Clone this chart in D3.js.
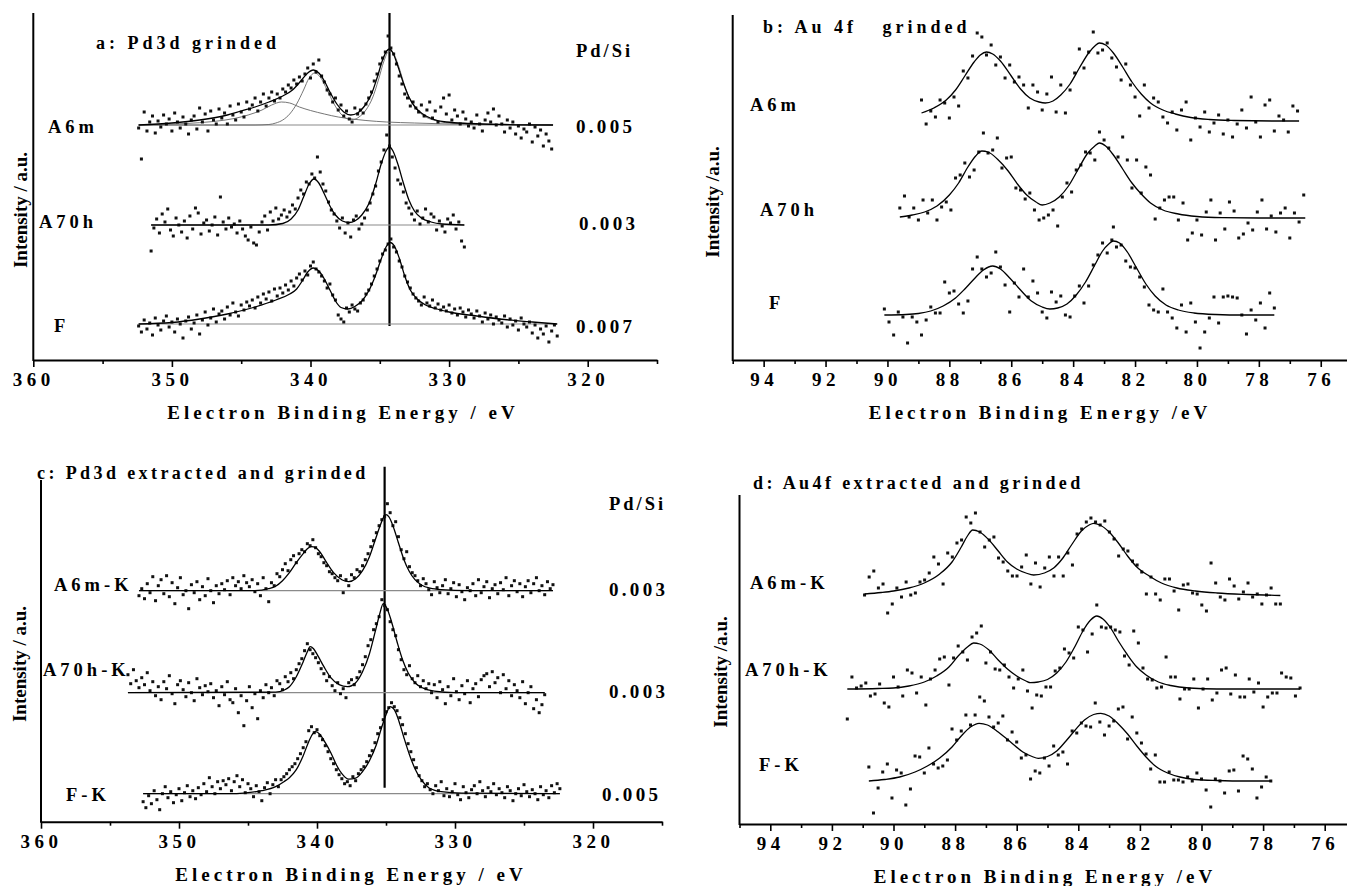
<!DOCTYPE html>
<html>
<head>
<meta charset="utf-8">
<script src="https://cdn.jsdelivr.net/npm/d3@7"></script>
<style>
body { margin: 0; background: #fff; }
svg text { font-family: "Liberation Serif", "Times New Roman", serif; font-weight: bold; fill: #000; }
</style>
</head>
<body>
<svg id="chart" width="1347" height="886"></svg>
<script>

// intensities are in arbitrary units (offset traces)

// ---- panel a: Pd3d grinded ----
var aSamples = ["A6m", "A70h", "F"];
var aRatios = ["0.005", "0.003", "0.007"];
var aStarts = [352.4, 351.5, 352.4];
var aBaselines = [235, 135, 36];
var aCountsA6m = [232, 201, 248, 229, 238, 244, 227, 239, 233, 245,
  236, 241, 229, 247, 238, 232, 243, 236, 226, 240,
  244, 231, 252, 238, 246, 229, 249, 240, 236, 251,
  242, 247, 236, 254, 245, 240, 256, 248, 243, 258,
  251, 255, 262, 249, 258, 266, 254, 262, 268, 259,
  266, 262, 271, 268, 275, 272, 280, 276, 283, 279,
  286, 292, 282, 296, 288, 300, 284, 278, 270, 266,
  258, 262, 250, 255, 244, 249, 241, 238, 252, 246,
  250, 247, 256, 262, 268, 279, 286, 296, 302, 308,
  324, 312, 306, 296, 284, 276, 266, 262, 254, 258,
  252, 248, 255, 244, 250, 258, 242, 249, 238, 253,
  262, 246, 265, 240, 250, 244, 236, 248, 241, 234,
  238, 232, 245, 236, 229, 240, 247, 238, 251, 235,
  244, 236, 228, 240, 232, 238, 226, 234, 222, 231,
  228, 236, 218, 233, 224, 230, 214, 226, 219, 211];
var aCountsA70h = [109, 132, 141, 127, 146, 138, 151, 130, 124, 142,
  135, 128, 139, 122, 144, 131, 152, 147, 126, 137,
  140, 129, 135, 143, 125, 163, 138, 131, 142, 133,
  136, 127, 139, 131, 124, 120, 133, 117, 115, 128,
  138, 144, 130, 148, 139, 152, 141, 145, 150, 143,
  148, 155, 151, 162, 170, 166, 178, 176, 186, 182,
  203, 188, 176, 169, 158, 150, 146, 139, 132, 142,
  127, 137, 123, 140, 144, 131, 136, 142, 150, 157,
  166, 174, 189, 198, 210, 225, 214, 203, 192, 180,
  176, 168, 157, 152, 146, 140, 149, 136, 142, 151,
  138, 146, 143, 130, 139, 134, 128, 141, 137, 145,
  131, 138, 119, 113];
var aCountsF = [34, 28, 40, 31, 37, 25, 42, 35, 30, 39,
  44, 33, 38, 28, 41, 36, 22, 39, 43, 31,
  37, 45, 26, 40, 48, 35, 42, 51, 38, 46,
  49, 41, 53, 45, 57, 48, 44, 55, 50, 58,
  54, 60, 52, 63, 57, 66, 61, 68, 59, 71,
  64, 72, 67, 75, 70, 79, 74, 82, 86, 80,
  89, 85, 94, 98, 91, 88, 84, 79, 72, 76,
  65, 60, 45, 41, 38, 52, 48, 55, 51, 49,
  57, 60, 66, 70, 76, 84, 91, 99, 106, 110,
  116, 121, 113, 108, 99, 93, 84, 78, 72, 66,
  62, 59, 55, 63, 57, 54, 60, 52, 56, 50,
  53, 49, 55, 47, 51, 45, 52, 48, 43, 50,
  46, 42, 49, 44, 38, 47, 41, 45, 36, 43,
  40, 37, 44, 33, 41, 35, 39, 30, 42, 36,
  33, 38, 27, 35, 22, 31, 26, 34, 18, 29,
  35, 24];
var aFitA6m = [[352.4,235],[350,237],[348,240],[346,245],[345,249],[344,253],[343,258],[342,264],[341.3,270],[340.7,279],[340.2,287],[339.8,290],[339.4,287],[339,279],[338.6,268],[338.1,256],[337.6,248],[337.1,245],[336.6,247],[336.1,254],[335.6,266],[335.2,282],[334.8,300],[334.5,309],[334.3,311],[334.05,307],[333.7,294],[333.3,277],[332.9,263],[332.4,252],[331.9,246],[331.2,241],[330.2,238],[328.5,236.5],[326,235.5],[322.5,235]];
var aNarrowA6m = [[352.4,235],[344,235],[343,235.5],[342.5,237],[342,240],[341.5,246],[341,256],[340.5,270],[340.1,282],[339.7,287],[339.3,283],[338.8,270],[338.3,256],[337.8,246],[337.3,241],[336.9,240.5],[336.5,243],[336,250],[335.5,263],[335.1,280],[334.7,299],[334.4,308],[334.2,309],[333.95,305],[333.6,292],[333.2,274],[332.8,260],[332.3,250],[331.8,244],[331,239.5],[330,237],[327,235.5],[322.5,235]];
var aBroadA6m = [[352.4,235],[349,236.5],[347,238.5],[345.5,241.5],[344.5,245],[343.5,250],[342.8,255],[342.1,258],[341.5,257],[340.8,253],[340,249.5],[339,246],[338,243],[337,241],[336,239.5],[334.5,238],[332.5,237],[330,236],[326,235.3],[322.5,235]];
var aFitA70h = [[351.5,135],[343,135],[342,136.5],[341.4,141],[340.9,150],[340.5,163],[340.1,176],[339.75,181],[339.4,177],[339,166],[338.6,154],[338.2,145],[337.7,139],[337.2,137.5],[336.8,139],[336.3,145],[335.8,156],[335.3,176],[334.9,196],[334.55,209],[334.3,213],[334.05,209],[333.7,196],[333.3,177],[332.9,160],[332.5,149],[332,142],[331.3,138],[330.5,136],[328.9,135]];
var aFitF = [[352.4,36],[350,37.5],[348,41],[346,46],[344,53],[342.5,60],[341.5,66],[341,71],[340.6,79],[340.2,88],[339.8,92],[339.4,89],[339,81],[338.6,70],[338.2,59],[337.8,52.5],[337.3,51],[336.8,53.5],[336.3,59],[335.8,69],[335.3,85],[334.9,101],[334.55,113],[334.25,117.5],[333.95,114],[333.6,102],[333.2,84],[332.8,70],[332.3,61],[331.7,55],[331,51.5],[330,48],[328,44],[326,40.5],[324,38],[322.2,36]];
var aRefLine = [334.3, 347, 34];   // energy, top, bottom

// ---- panel b: Au 4f grinded ----
var bSamples = ["A6m", "A70h", "F"];
var bStarts = [88.9, 89.6, 90.1];
var bCountsA6m = [260, 236, 249, 243, 260, 257, 242, 263, 254,
  289, 282, 304, 327, 323, 305, 315, 295, 303,
  282, 295, 278, 283, 275, 252, 275, 268, 250,
  266, 283, 248, 275, 247, 270, 287, 311, 292,
  308, 328, 307, 310, 317, 302, 293, 280, 296,
  275, 263, 244, 275, 252, 262, 258, 243, 237,
  248, 230, 250, 258, 220, 242, 233, 248, 228,
  237, 245, 226, 240, 223, 236, 250, 232, 263,
  238, 223, 255, 260, 229, 244, 240, 228, 254,
  249];
var bCountsA70h = [152, 164, 143, 152, 140, 160, 147, 160, 140,
  153, 158, 150, 182, 185, 197, 183, 190, 208,
  227, 207, 210, 222, 192, 202, 203, 172, 170,
  161, 167, 150, 140, 142, 145, 150, 134, 163,
  177, 168, 190, 195, 208, 207, 200, 228, 220,
  212, 133, 203, 223, 200, 172, 200, 167, 193,
  185, 141, 152, 160, 163, 163, 140, 157, 120,
  127, 140, 125, 148, 160, 120, 147, 131, 158,
  149, 122, 126, 137, 130, 148, 160, 131, 144,
  128, 147, 152, 122, 147, 138, 165];
var bCountsF = [51, 38, 25, 48, 43, 17, 43, 38, 25,
  40, 53, 47, 47, 78, 67, 69, 56, 47,
  59, 91, 103, 91, 83, 87, 108, 93, 75,
  48, 77, 63, 91, 63, 79, 67, 48, 42,
  68, 58, 64, 45, 43, 64, 74, 57, 74,
  95, 105, 117, 107, 120, 113, 115, 99, 93,
  92, 83, 73, 55, 50, 48, 71, 48, 42,
  32, 55, 28, 57, 38, 12, 28, 42, 63,
  37, 63, 64, 63, 62, 45, 26, 50, 40,
  57, 32, 67, 52];
var bFitA6m = [[88.9,247],[88.5,252],[88.1,260],[87.8,270],[87.5,284],[87.2,298],[87.0,305],[86.8,308],[86.6,306],[86.35,299],[86.0,284],[85.7,271],[85.4,262],[85.1,258],[84.9,257],[84.65,259],[84.4,265],[84.1,276],[83.8,292],[83.5,307],[83.3,314],[83.15,317],[82.95,315],[82.7,307],[82.4,293],[82.1,278],[81.8,266],[81.5,257],[81.1,250],[80.7,246],[80.2,242.5],[79.6,240.5],[78.8,239.5],[77.5,239],[76.7,239]];
var bFitA70h = [[89.6,143],[89.2,145],[88.8,148],[88.4,154],[88.0,165],[87.7,177],[87.4,193],[87.15,204],[86.95,209],[86.75,208],[86.45,201],[86.1,189],[85.8,176],[85.5,165],[85.2,158],[85.0,155],[84.75,157],[84.45,163],[84.15,174],[83.85,190],[83.55,206],[83.3,214],[83.15,217],[82.95,214],[82.7,205],[82.4,191],[82.1,177],[81.8,166],[81.5,157],[81.1,150],[80.6,146],[80.0,143.5],[79.2,142.3],[78,142],[76.5,142]];
var bFitF = [[90.1,45],[89.4,45.5],[89,46.5],[88.6,49],[88.2,54],[87.8,62],[87.5,71],[87.2,81],[86.9,90],[86.6,94],[86.35,91],[86.05,82],[85.7,70],[85.35,59],[85.0,53],[84.75,51],[84.5,52],[84.2,56],[83.9,65],[83.6,78],[83.3,95],[83.05,109],[82.85,116],[82.7,119],[82.5,117],[82.25,108],[81.95,92],[81.65,76],[81.35,64],[81.0,55],[80.6,50],[80.1,47],[79.4,45.5],[78.5,45],[77.5,45]];

// ---- panel c: Pd3d extracted and grinded ----
var cSamples = ["A6m-K", "A70h-K", "F-K"];
var cRatios = ["0.003", "0.003", "0.005"];
var cStarts = [352.9, 353.7, 352.6];
var cBaselines = [231, 129, 28];
var cCountsA6m = [226, 233, 223, 238, 229, 245, 221, 236, 242, 228,
  246, 225, 239, 218, 234, 244, 227, 231, 213, 237,
  229, 240, 222, 235, 226, 243, 231, 219, 236, 228,
  238, 232, 241, 227, 244, 236, 240, 233, 246, 239,
  235, 242, 230, 238, 226, 244, 233, 220, 239, 236,
  248, 245, 252, 258, 251, 262, 266, 259, 268, 272,
  270, 278, 276, 282, 274, 268, 265, 259, 256, 250,
  248, 244, 241, 246, 229, 242, 236, 247, 244, 252,
  250, 256, 262, 268, 275, 281, 289, 296, 302, 305,
  318, 309, 296, 300, 285, 272, 263, 270, 255, 249,
  246, 241, 236, 243, 238, 232, 227, 240, 234, 229,
  236, 242, 228, 233, 239, 225, 237, 230, 222, 234,
  231, 238, 226, 242, 229, 235, 240, 224, 233, 237,
  228, 239, 232, 244, 226, 236, 241, 230, 238, 225,
  235, 241, 229, 238, 244, 231, 236, 227, 240, 233,
  237];
var cCountsA70h = [147, 138, 152, 141, 134, 144, 137, 149, 131, 140,
  126, 135, 122, 140, 133, 146, 128, 118, 137, 141,
  132, 125, 139, 129, 121, 143, 134, 127, 136, 130,
  138, 124, 131, 116, 135, 127, 140, 122, 119, 133,
  109, 126, 96, 121, 135, 114, 128, 103, 131, 124,
  137, 129, 134, 126, 141, 138, 132, 145, 140, 149,
  143, 152, 158, 163, 171, 178, 172, 168, 164, 159,
  153, 148, 141, 145, 136, 131, 139, 128, 133, 124,
  139, 142, 137, 144, 150, 157, 165, 176, 182, 192,
  198, 205, 222, 216, 212, 200, 192, 186, 172, 162,
  152, 147, 156, 143, 139, 146, 135, 141, 133, 138,
  129, 137, 124, 140, 132, 118, 135, 126, 143, 130,
  122, 136, 128, 141, 119, 133, 138, 125, 142, 146,
  148, 135, 150, 139, 144, 129, 147, 133, 141, 126,
  137, 131, 124, 140, 118, 129, 135, 113, 122, 109,
  117, 127];
var cCountsF = [20, 14, 26, 18, 31, 22, 12, 28, 35, 24,
  30, 19, 27, 33, 21, 29, 36, 25, 31, 23,
  34, 27, 38, 30, 44, 35, 28, 40, 33, 41,
  37, 43, 31, 40, 46, 35, 42, 29, 38, 33,
  25, 36, 30, 21, 34, 39, 28, 37, 42, 35,
  42, 45, 48, 52, 55, 58, 63, 68, 74, 80,
  91, 95, 89, 92, 86, 82, 76, 70, 63, 58,
  52, 47, 43, 38, 40, 36, 45, 41, 48, 52,
  55, 60, 66, 71, 79, 88, 94, 102, 110, 114,
  119, 115, 111, 104, 97, 88, 78, 70, 62, 54,
  46, 41, 35, 38, 32, 28, 36, 31, 40, 26,
  33, 25, 30, 38, 27, 22, 35, 29, 24, 32,
  36, 28, 40, 31, 25, 34, 30, 38, 27, 33,
  29, 24, 35, 31, 21, 28, 33, 26, 37, 30,
  25, 32, 28, 22, 35, 27, 31, 24, 36, 29,
  38, 33];
var cFitA6m = [[352.9,231],[344.5,231],[343.5,233],[343,235.5],[342.5,241],[342,249],[341.5,259],[341,268],[340.7,273],[340.4,275],[340.1,274],[339.7,268],[339.3,259],[338.8,249],[338.2,242],[337.7,240],[337.2,243],[336.7,251],[336.2,265],[335.8,281],[335.4,297],[335.15,305],[335.0,307],[334.8,305],[334.5,296],[334.1,279],[333.7,262],[333.3,250],[332.9,242],[332.4,236.5],[331.8,233.5],[331,232],[329,231],[322.9,231]];
var cFitA70h = [[353.7,129],[343,129.5],[342.4,131.5],[342,135],[341.5,145],[341,160],[340.7,170],[340.5,175],[340.25,173],[339.9,165],[339.5,155],[339,144],[338.4,137],[337.8,135],[337.2,139],[336.7,150],[336.2,168],[335.8,189],[335.45,208],[335.2,218],[334.95,214],[334.6,200],[334.2,180],[333.8,162],[333.4,149],[332.9,139],[332.3,133.5],[331.5,130.5],[330,129],[323.5,129]];
var cFitF = [[352.6,28],[346,28],[345,29],[344,31],[343,35],[342.4,40],[342,44],[341.5,52],[341,66],[340.6,80],[340.3,88],[340.1,90],[339.8,87.5],[339.4,79],[339,69],[338.6,57],[338.2,48],[337.7,42.5],[337.2,43.5],[336.7,50],[336.2,61],[335.7,77],[335.3,95],[335,107],[334.7,115],[334.4,112],[334.05,100],[333.7,84],[333.3,67],[332.9,53],[332.4,41],[331.9,34],[331,30],[329.5,28.5],[322.4,28]];
var cRefLine = [335.1, 355, 34];

// ---- panel d: Au4f extracted and grinded ----
var dSamples = ["A6m-K", "A70h-K", "F-K"];
var dStarts = [90.94, 91.5, 90.8];
var dCountsA6m = [229, 247, 253, 236, 240, 211, 220, 236, 227, 242,
  229, 231, 242, 244, 251, 267, 260, 240, 271, 267,
  281, 284, 307, 301, 311, 292, 277, 284, 287, 266,
  262, 253, 248, 248, 257, 269, 240, 261, 237, 256,
  267, 248, 267, 248, 271, 259, 290, 295, 302, 306,
  302, 299, 303, 292, 285, 268, 275, 273, 263, 259,
  252, 230, 247, 230, 224, 245, 245, 233, 214, 239,
  240, 231, 230, 219, 213, 261, 241, 227, 224, 245,
  238, 225, 232, 241, 227, 230, 220, 229, 236, 220,
  220];
var dCountsA70h = [105, 147, 136, 138, 141, 128, 130, 140, 121, 117,
  147, 137, 128, 154, 151, 131, 147, 119, 145, 154,
  165, 167, 139, 166, 178, 172, 164, 187, 191, 198,
  161, 172, 155, 154, 159, 147, 136, 145, 154, 133,
  116, 129, 128, 137, 137, 153, 156, 175, 171, 166,
  197, 194, 172, 190, 219, 197, 196, 197, 194, 192,
  168, 159, 193, 181, 156, 145, 144, 136, 137, 167,
  147, 147, 125, 135, 135, 145, 116, 135, 145, 124,
  131, 154, 156, 130, 149, 127, 127, 145, 132, 141,
  117, 127, 131, 131, 151, 147, 146, 128, 136];
var dCountsF = [57, 11, 36, 52, 60, 26, 54, 51, 19, 35,
  68, 67, 51, 76, 60, 56, 58, 64, 95, 84,
  93, 109, 99, 109, 127, 123, 107, 97, 101, 108,
  84, 92, 82, 66, 69, 45, 53, 51, 66, 58,
  78, 69, 72, 60, 93, 91, 101, 98, 97, 121,
  102, 89, 98, 103, 115, 117, 85, 107, 91, 81,
  70, 55, 69, 42, 42, 52, 44, 44, 42, 47,
  43, 51, 45, 34, 17, 45, 43, 31, 53, 54,
  33, 68, 65, 55, 26, 37, 47, 43];
var dFitA6m = [[90.94,230],[90.4,231.5],[90,233],[89.5,236],[89,241],[88.5,250],[88.1,262],[87.8,277],[87.6,288],[87.43,294],[87.2,292],[86.9,284],[86.6,273],[86.3,262],[86,255],[85.7,251],[85.45,249],[85.1,251],[84.8,256],[84.5,266],[84.2,280],[83.9,293],[83.65,299],[83.5,300.7],[83.3,299],[83.0,292],[82.7,281],[82.4,268],[82.1,257],[81.7,248],[81.3,241],[80.8,236],[80.2,233],[79.5,231],[78.5,229.5],[77.44,228.5]];
var dFitA70h = [[91.5,135],[90.5,135.5],[90,136],[89.5,138],[89,142],[88.6,148],[88.2,157],[87.9,168],[87.6,177],[87.4,181],[87.2,180],[86.9,174],[86.6,164],[86.3,155],[86,148],[85.7,143],[85.55,141.3],[85.3,142],[85,144.5],[84.7,151],[84.4,162],[84.1,178],[83.85,193],[83.6,204],[83.4,208],[83.2,205],[82.95,196],[82.7,183],[82.4,169],[82.1,157],[81.8,149],[81.4,142],[81,138.5],[80.4,136],[79.5,135],[78,135],[76.8,135]];
var dFitF = [[90.8,43],[90.3,44.5],[89.8,47],[89.3,52],[88.9,58],[88.5,66],[88.1,77],[87.8,88],[87.5,97],[87.22,100.7],[86.95,99],[86.6,92],[86.2,82],[85.8,72],[85.5,67.5],[85.3,65.7],[85,67.5],[84.7,73],[84.4,83],[84.1,94],[83.8,104],[83.5,109.5],[83.27,110.7],[83,108],[82.7,100],[82.4,90],[82.1,78],[81.8,67],[81.5,58],[81.1,51],[80.7,47],[80.2,44.5],[79.5,43.5],[78.5,43],[77.76,43]];

var pdTicks = [360, 350, 340, 330, 320];
var pdMinor = [355, 345, 335, 325, 315];
var auTicks = [94, 92, 90, 88, 86, 84, 82, 80, 78, 76];
var auMinor = [95, 93, 91, 89, 87, 85, 83, 81, 79, 77];

var pdStep = 0.2, auStep = 0.15;

// ---- drawing ----
var svg = d3.select("#chart");

function addText(g, str, x, y, size, spacing) {
    return g.append("text")
        .attr("x", x).attr("y", y)
        .style("font-size", size + "px")
        .style("letter-spacing", spacing + "px")
        .style("white-space", "pre")
        .text(str);
}

function drawPanel(p) {
    var x = d3.scaleLinear().domain(p.domain).range(p.range);
    var y = d3.scaleLinear().domain([0, 100]).range([p.axisY, p.axisY - 100]);
    var g = svg.append("g");

    // y axis: plain line, no ticks
    g.append("line")
        .attr("x1", p.range[0]).attr("x2", p.range[0])
        .attr("y1", p.yTop).attr("y2", p.axisY + 1)
        .attr("stroke", "#000").attr("stroke-width", 2);

    // minor ticks first, then labelled ticks
    var gMinor = g.append("g").attr("transform", "translate(0," + p.axisY + ")")
        .call(d3.axisBottom(x).tickValues(p.minor).tickSize(4).tickSizeOuter(0).tickFormat(""));
    gMinor.select(".domain").remove();
    gMinor.selectAll(".tick line").attr("stroke-width", 1.6);

    var gx = g.append("g").attr("transform", "translate(0," + p.axisY + ")")
        .call(d3.axisBottom(x).tickValues(p.major).tickSize(7).tickSizeOuter(0).tickFormat(d3.format("d")));
    gx.select(".domain").attr("stroke-width", 2);
    gx.selectAll(".tick line").attr("stroke-width", 1.6);
    gx.selectAll(".tick text")
        .attr("y", 13)
        .style("font-family", '"Liberation Serif", serif')
        .style("font-weight", "bold")
        .style("font-size", "19px")
        .style("letter-spacing", "4.5px");

    // axis titles
    addText(g, p.xTitle, p.xTitlePos[0], p.xTitlePos[1], 19, 4).attr("text-anchor", "middle");
    g.append("text")
        .attr("transform", "translate(" + p.yTitlePos[0] + "," + p.yTitlePos[1] + ") rotate(-90)")
        .attr("text-anchor", "middle")
        .attr("dy", "0.35em")
        .style("font-size", "19px")
        .text(p.yTitle);
    addText(g, p.title, p.titlePos[0], p.titlePos[1], 18, p.titleSpacing);

    var line = d3.line()
        .x(function(d) { return x(d[0]); })
        .y(function(d) { return y(d[1]); })
        .curve(d3.curveMonotoneX);

    // reference line through the Pd 3d5/2 peak
    if (p.refLine) {
        g.append("line")
            .attr("x1", x(p.refLine[0])).attr("x2", x(p.refLine[0]))
            .attr("y1", y(p.refLine[1])).attr("y2", y(p.refLine[2]))
            .attr("stroke", "#000").attr("stroke-width", 2.2);
    }

    p.traces.forEach(function(t, k) {
        if (t.baseline !== undefined) {
            g.append("line")
                .attr("x1", x(t.start)).attr("x2", x(t.start - (t.counts.length - 1) * p.step))
                .attr("y1", y(t.baseline)).attr("y2", y(t.baseline))
                .attr("stroke", "#8a8a8a").attr("stroke-width", 1.2);
        }
        (t.components || []).forEach(function(c) {
            g.append("path").datum(c)
                .attr("d", line)
                .attr("fill", "none")
                .attr("stroke", "#666")
                .attr("stroke-width", 0.9);
        });

        g.append("g").selectAll("rect")
            .data(t.counts)
            .join("rect")
            .attr("x", function(d, i) { return x(t.start - i * p.step) - 1.5; })
            .attr("y", function(d) { return y(d) - 1.5; })
            .attr("width", 3)
            .attr("height", 3)
            .attr("fill", "#111");

        g.append("path").datum(t.fit)
            .attr("d", line)
            .attr("fill", "none")
            .attr("stroke", "#000")
            .attr("stroke-width", 1.3);

        addText(g, p.samples[k], p.labelPos[k][0], p.labelPos[k][1], 18.5, 4);
        if (p.ratios) {
            addText(g, p.ratios[k], p.ratioPos[k][0], p.ratioPos[k][1], 19, 3.3);
        }
    });

    if (p.ratios) {
        addText(g, "Pd/Si", p.ratioHead[0], p.ratioHead[1], 18.5, 3);
    }
}

drawPanel({
    domain: [360, 315], range: [33.3, 657], axisY: 360, yTop: 13,
    major: pdTicks, minor: pdMinor, step: pdStep,
    xTitle: "Electron Binding Energy / eV", xTitlePos: [343, 419],
    yTitle: "Intensity / a.u.", yTitlePos: [20, 210],
    title: "a: Pd3d grinded", titlePos: [96, 49], titleSpacing: 4,
    refLine: aRefLine,
    samples: aSamples, ratios: aRatios,
    labelPos: [[48, 133], [39, 228], [54, 332]],
    ratioPos: [[576, 133], [579, 230], [576, 333]],
    ratioHead: [576, 57],
    traces: [
        { start: aStarts[0], counts: aCountsA6m, fit: aFitA6m, baseline: aBaselines[0], components: [aBroadA6m, aNarrowA6m] },
        { start: aStarts[1], counts: aCountsA70h, fit: aFitA70h, baseline: aBaselines[1] },
        { start: aStarts[2], counts: aCountsF, fit: aFitF, baseline: aBaselines[2] }
    ]
});

drawPanel({
    domain: [95, 75], range: [732.7, 1351.7], axisY: 360, yTop: 15,
    major: auTicks, minor: auMinor, step: auStep,
    xTitle: "Electron Binding Energy /eV", xTitlePos: [1040, 419],
    yTitle: "Intensity /a.u.", yTitlePos: [712, 202],
    title: "b: Au 4f   grinded", titlePos: [763, 33], titleSpacing: 4,
    samples: bSamples,
    labelPos: [[750, 111], [760, 216], [769, 309]],
    traces: [
        { start: bStarts[0], counts: bCountsA6m, fit: bFitA6m },
        { start: bStarts[1], counts: bCountsA70h, fit: bFitA70h },
        { start: bStarts[2], counts: bCountsF, fit: bFitF }
    ]
});

drawPanel({
    domain: [360, 315], range: [41, 662], axisY: 821.7, yTop: 480,
    major: pdTicks, minor: pdMinor, step: pdStep,
    xTitle: "Electron Binding Energy / eV", xTitlePos: [351, 881],
    yTitle: "Intensity / a.u.", yTitlePos: [19, 664],
    title: "c: Pd3d extracted and grinded", titlePos: [37, 479], titleSpacing: 3.4,
    refLine: cRefLine,
    samples: cSamples, ratios: cRatios,
    labelPos: [[54, 591], [43, 676], [66, 801]],
    ratioPos: [[609, 596], [609, 698], [602, 801]],
    ratioHead: [609, 510],
    traces: [
        { start: cStarts[0], counts: cCountsA6m, fit: cFitA6m, baseline: cBaselines[0] },
        { start: cStarts[1], counts: cCountsA70h, fit: cFitA70h, baseline: cBaselines[1] },
        { start: cStarts[2], counts: cCountsF, fit: cFitF, baseline: cBaselines[2] }
    ]
});

drawPanel({
    domain: [95, 75], range: [739.5, 1355.5], axisY: 824, yTop: 495,
    major: auTicks, minor: auMinor, step: auStep,
    xTitle: "Electron Binding Energy /eV", xTitlePos: [1045, 883],
    yTitle: "Intensity /a.u.", yTitlePos: [720, 672],
    title: "d: Au4f extracted and grinded", titlePos: [753, 489], titleSpacing: 3.4,
    samples: dSamples,
    labelPos: [[750, 589], [745, 676], [759, 771]],
    traces: [
        { start: dStarts[0], counts: dCountsA6m, fit: dFitA6m },
        { start: dStarts[1], counts: dCountsA70h, fit: dFitA70h },
        { start: dStarts[2], counts: dCountsF, fit: dFitF }
    ]
});

</script>
</body>
</html>
